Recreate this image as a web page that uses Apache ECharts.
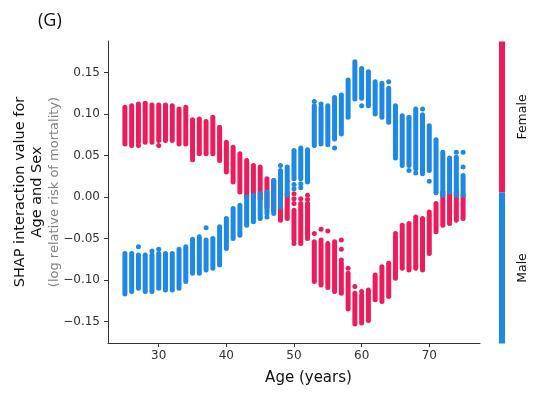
<!DOCTYPE html>
<html>
<head>
<meta charset="utf-8">
<script src="https://cdn.jsdelivr.net/npm/echarts@6/dist/echarts.min.js"></script>
<style>
  html, body { margin: 0; padding: 0; background: #fff; }
  #chart { width: 540px; height: 397px; }
</style>
</head>
<body>
<div id="chart"></div>
<script>
const FEMALE = '#ee1b5b'
const MALE = '#1e88e5'

// one vertical strip of points per age
const ages = [25, 26, 27, 28, 29, 30, 31, 32, 33, 34, 35, 36, 37, 38, 39, 40, 41, 42, 43, 44, 45, 46, 47, 48, 49, 50,
  51, 52, 53, 54, 55, 56, 57, 58, 59, 60, 61, 62, 63, 64, 65, 66, 67, 68, 69, 70, 71, 72, 73, 74, 75]

const femaleHigh = [0.108, 0.110, 0.112, 0.113, 0.111, 0.111, 0.111, 0.110, 0.106, 0.108, 0.093, 0.094, 0.091, 0.096, 0.084,
  0.066, 0.060, 0.052, 0.044, 0.038, 0.036, 0.022, 0.020, 0.006, 0.004, -0.016, -0.008, -0.008, -0.054, -0.052,
  -0.056, -0.054, -0.080, -0.092, -0.116, -0.118, -0.112, -0.094, -0.084, -0.080, -0.048, -0.034, -0.032, -0.024,
  -0.026, -0.018, -0.008, 0.006, 0.006, 0.006, 0.002]
const femaleLow = [0.064, 0.062, 0.066, 0.066, 0.066, 0.068, 0.068, 0.068, 0.064, 0.064, 0.048, 0.052, 0.052, 0.052, 0.044,
  0.030, 0.018, 0.006, 0.000, 0.000, -0.002, -0.012, -0.016, -0.028, -0.026, -0.052, -0.056, -0.050, -0.102, -0.106,
  -0.109, -0.114, -0.116, -0.135, -0.153, -0.152, -0.149, -0.124, -0.126, -0.120, -0.098, -0.086, -0.088, -0.086,
  -0.088, -0.068, -0.042, -0.034, -0.032, -0.028, -0.026]

const maleHigh = [-0.068, -0.068, -0.070, -0.070, -0.070, -0.068, -0.068, -0.068, -0.063, -0.060, -0.051, -0.048, -0.052,
  -0.050, -0.036, -0.026, -0.014, -0.010, 0.000, 0.002, 0.004, 0.006, 0.020, 0.032, 0.036, 0.056, 0.059, 0.057,
  0.110, 0.108, 0.110, 0.120, 0.123, 0.141, 0.163, 0.155, 0.151, 0.139, 0.137, 0.131, 0.110, 0.098, 0.096, 0.106,
  0.099, 0.086, 0.069, 0.054, 0.047, 0.048, 0.026]
const maleLow = [-0.117, -0.114, -0.110, -0.114, -0.114, -0.110, -0.112, -0.112, -0.110, -0.102, -0.092, -0.092, -0.088,
  -0.086, -0.082, -0.062, -0.050, -0.046, -0.034, -0.030, -0.024, -0.020, -0.020, -0.012, 0.002, 0.022, 0.022, 0.018,
  0.062, 0.064, 0.063, 0.070, 0.076, 0.096, 0.118, 0.119, 0.110, 0.100, 0.096, 0.090, 0.047, 0.038, 0.038, 0.034,
  0.028, 0.032, 0.005, 0.002, 0.006, 0.002, 0.002]

// loose points outside the strips
const femaleDotAge = [27, 30, 35, 50, 50, 50, 50, 51, 52, 52, 53, 54, 55, 57, 57, 57, 58, 59, 60, 65]
const femaleDotVal = [0.062, 0.062, 0.045, 0.004, -0.002, -0.008, -0.056, -0.002, 0.002, -0.003, -0.044, -0.039, -0.041,
  -0.052, -0.063, -0.076, -0.086, -0.108, -0.114, -0.044]
const maleDotAge = [27, 29, 30, 37, 43, 45, 46, 48, 50, 50, 51, 51, 53, 54, 56, 60, 64, 67, 68, 69, 70, 74, 75, 75]
const maleDotVal = [-0.060, -0.065, -0.063, -0.037, 0.000, -0.026, -0.024, 0.038, 0.015, 0.010, 0.016, 0.011, 0.115, 0.112,
  0.059, 0.110, 0.139, 0.032, 0.029, 0.106, 0.019, 0.054, 0.054, 0.036]

const yTicks = [-0.15, -0.10, -0.05, 0, 0.05, 0.10, 0.15]
const xTicks = [30, 40, 50, 60, 70]

const stripData = (high, low) => ages.map((a, i) => [a, low[i], high[i]])
const dotData = (xs, ys) => xs.map((a, i) => [a, ys[i]])

function renderStrip(params, api) {
  const top = api.coord([api.value(0), api.value(2)])
  const bottom = api.coord([api.value(0), api.value(1)])
  const w = 5
  return {
    type: 'rect',
    shape: { x: top[0] - w / 2, y: top[1] - w / 2, width: w, height: bottom[1] - top[1] + w, r: w / 2 },
    style: { fill: api.visual('color') }
  }
}

const chart = echarts.init(document.getElementById('chart'))
const axisColor = '#333'
const font = 'DejaVu Sans'

chart.setOption({
  animation: false,
  grid: { left: 108, top: 41, right: 60, bottom: 54, outerBoundsMode: 'none' },
  xAxis: {
    type: 'value',
    min: 22.5,
    max: 77.5,
    name: 'Age (years)',
    nameLocation: 'middle',
    nameGap: 28,
    nameMoveOverlap: false,
    nameTextStyle: { fontFamily: font, fontSize: 15, color: '#111', padding: [0, 0, 0, 29] },
    axisLine: { onZero: false, lineStyle: { color: axisColor, width: 1 } },
    axisTick: { customValues: xTicks, length: 4, lineStyle: { color: axisColor } },
    axisLabel: { customValues: xTicks, margin: 7, fontFamily: font, fontSize: 12, color: '#333' },
    splitLine: { show: false }
  },
  yAxis: {
    type: 'value',
    min: -0.176,
    max: 0.188,
    name: '{a|SHAP interaction value for}\n{a|Age and Sex}\n{b|(log relative risk of mortality)}',
    nameLocation: 'middle',
    nameRotate: 90,
    nameGap: 45,
    nameMoveOverlap: false,
    nameTextStyle: {
      fontFamily: font,
      rich: {
        a: { fontFamily: font, fontSize: 14.5, color: '#111', lineHeight: 17.5 },
        b: { fontFamily: font, fontSize: 13, color: '#808080', lineHeight: 17 }
      }
    },
    axisLine: { show: true, onZero: false, lineStyle: { color: axisColor, width: 1 } },
    axisTick: { show: true, customValues: yTicks, length: 4, lineStyle: { color: axisColor } },
    axisLabel: {
      customValues: yTicks,
      margin: 8,
      fontFamily: font,
      fontSize: 12,
      color: '#333',
      formatter: (v) => (v < -1e-9 ? '\u2212' : '') + Math.abs(v).toFixed(2)
    },
    splitLine: { show: false }
  },
  graphic: [
    { type: 'text', left: 38, top: 12, style: { text: '(G)', font: '18px "Open Sans", "DejaVu Sans"', fill: '#111' } },
    { type: 'rect', shape: { x: 499, y: 41.5, width: 6, height: 151 }, style: { fill: FEMALE } },
    { type: 'rect', shape: { x: 499, y: 192.5, width: 6, height: 151 }, style: { fill: MALE } },
    {
      type: 'text', x: 523, y: 117, rotation: Math.PI / 2,
      style: { text: 'Female', font: '12.5px "DejaVu Sans"', fill: '#111', align: 'center', verticalAlign: 'middle' }
    },
    {
      type: 'text', x: 523, y: 268, rotation: Math.PI / 2,
      style: { text: 'Male', font: '12.5px "DejaVu Sans"', fill: '#111', align: 'center', verticalAlign: 'middle' }
    }
  ],
  series: [
    { type: 'custom', name: 'Female', renderItem: renderStrip, data: stripData(femaleHigh, femaleLow), itemStyle: { color: FEMALE }, clip: true },
    { type: 'scatter', name: 'Female', data: dotData(femaleDotAge, femaleDotVal), symbolSize: 5, itemStyle: { color: FEMALE, opacity: 1 } },
    { type: 'custom', name: 'Male', renderItem: renderStrip, data: stripData(maleHigh, maleLow), itemStyle: { color: MALE }, clip: true },
    { type: 'scatter', name: 'Male', data: dotData(maleDotAge, maleDotVal), symbolSize: 5, itemStyle: { color: MALE, opacity: 1 } }
  ]
})
</script>
</body>
</html>
